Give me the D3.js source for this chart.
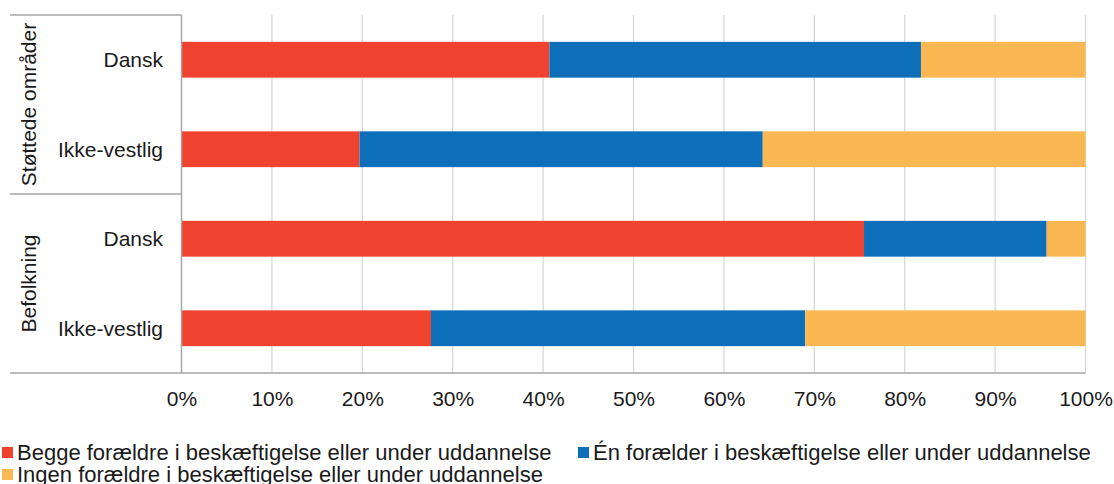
<!DOCTYPE html>
<html>
<head>
<meta charset="utf-8">
<script src="https://cdn.jsdelivr.net/npm/d3@7"></script>
<style>
  body { margin: 0; background: #fff; }
  svg text { font-family: "Liberation Sans", Arial, sans-serif; fill: #1a1a1a; }
</style>
</head>
<body>
<div id="myPlot"></div>
<script>
// Dimensions
const width = 1114;
const height = 484;
const xLeft = 181.5;
const xRight = 1085.5;
const yTop = 15;
const yBottom = 373;

// Data
const groups = ["Støttede områder", "Befolkning"];
const categories = ["Dansk", "Ikke-vestlig"];
const rows = ["Støttede områder|Dansk", "Støttede områder|Ikke-vestlig", "Befolkning|Dansk", "Befolkning|Ikke-vestlig"];
const begge = [40.7, 19.7, 75.5, 27.6];
const en = [41.1, 44.6, 20.2, 41.4];
const ingen = [18.2, 35.7, 4.3, 31.0];
const seriesNames = [
  "Begge forældre i beskæftigelse eller under uddannelse",
  "Én forælder i beskæftigelse eller under uddannelse",
  "Ingen forældre i beskæftigelse eller under uddannelse"
];
const colors = ["#f0432f", "#0d6fba", "#fbb751"];
const ticks = [0, 10, 20, 30, 40, 50, 60, 70, 80, 90, 100];

const svg = d3.select("#myPlot")
  .append("svg")
  .attr("width", width)
  .attr("height", height);

// Scales
const x = d3.scaleLinear().domain([0, 100]).range([xLeft, xRight]);
const y = d3.scaleBand().domain(rows).range([yTop, yBottom]).paddingInner(0.6).paddingOuter(0.3);

// Gridlines
svg.append("g")
  .selectAll("line")
  .data(ticks.slice(1))
  .enter()
  .append("line")
  .attr("x1", d => x(d))
  .attr("x2", d => x(d))
  .attr("y1", yTop)
  .attr("y2", yBottom)
  .attr("stroke", "#d9d9d9")
  .attr("stroke-width", 1.3);

// Stack
const table = rows.map((r, i) => ({ key: r, begge: begge[i], en: en[i], ingen: ingen[i] }));
const stacked = d3.stack().keys(["begge", "en", "ingen"])(table);

svg.append("g")
  .selectAll("g")
  .data(stacked)
  .enter()
  .append("g")
  .attr("fill", (d, i) => colors[i])
  .selectAll("rect")
  .data(d => d)
  .enter()
  .append("rect")
  .attr("x", d => x(d[0]))
  .attr("y", d => y(d.data.key))
  .attr("width", d => x(d[1]) - x(d[0]))
  .attr("height", y.bandwidth());

// X axis
const xAxis = svg.append("g")
  .attr("transform", `translate(0, ${yBottom})`)
  .call(d3.axisBottom(x).tickValues(ticks).tickFormat(d => d + "%").tickSize(0).tickPadding(18));
xAxis.select(".domain").remove();
xAxis.selectAll("text")
  .style("font-size", "21px")
  .style("font-family", "Liberation Sans, Arial, sans-serif")
  .attr("fill", "#1a1a1a");

// Axis frame lines
const axisColor = "#a6a6a6";
svg.append("line")
  .attr("x1", 10).attr("x2", xRight)
  .attr("y1", yBottom).attr("y2", yBottom)
  .attr("stroke", axisColor).attr("stroke-width", 1.5);
svg.append("line")
  .attr("x1", xLeft).attr("x2", xLeft)
  .attr("y1", yTop).attr("y2", yBottom)
  .attr("stroke", axisColor).attr("stroke-width", 1.5);
// group separators
const groupBounds = [yTop, (yTop + yBottom) / 2];
svg.append("g")
  .selectAll("line")
  .data(groupBounds)
  .enter()
  .append("line")
  .attr("x1", 10).attr("x2", xLeft)
  .attr("y1", d => d).attr("y2", d => d)
  .attr("stroke", axisColor).attr("stroke-width", 1.5);

// Category labels
svg.append("g")
  .selectAll("text")
  .data(rows)
  .enter()
  .append("text")
  .attr("x", 163)
  .attr("y", d => y(d) + y.bandwidth() / 2)
  .attr("dy", "0.35em")
  .attr("text-anchor", "end")
  .style("font-size", "21px")
  .text(d => d.split("|")[1]);

// Group labels (rotated)
const groupHeight = (yBottom - yTop) / groups.length;
svg.append("g")
  .selectAll("text")
  .data(groups)
  .enter()
  .append("text")
  .attr("transform", (d, i) => `translate(29, ${yTop + groupHeight * (i + 0.5)}) rotate(-90)`)
  .attr("dy", "0.35em")
  .attr("text-anchor", "middle")
  .style("font-size", "21px")
  .text(d => d);

// Legend
const legendPos = [[2, 452], [578, 452], [2, 474]];
const legend = svg.append("g")
  .selectAll("g")
  .data(seriesNames)
  .enter()
  .append("g")
  .attr("transform", (d, i) => `translate(${legendPos[i][0]}, ${legendPos[i][1]})`);

legend.append("rect")
  .attr("x", 0)
  .attr("y", -5)
  .attr("width", 11)
  .attr("height", 11)
  .attr("fill", (d, i) => colors[i]);

legend.append("text")
  .attr("x", 15)
  .attr("y", 0)
  .attr("dy", "0.35em")
  .style("font-size", "22px")
  .text(d => d);
</script>
</body>
</html>
